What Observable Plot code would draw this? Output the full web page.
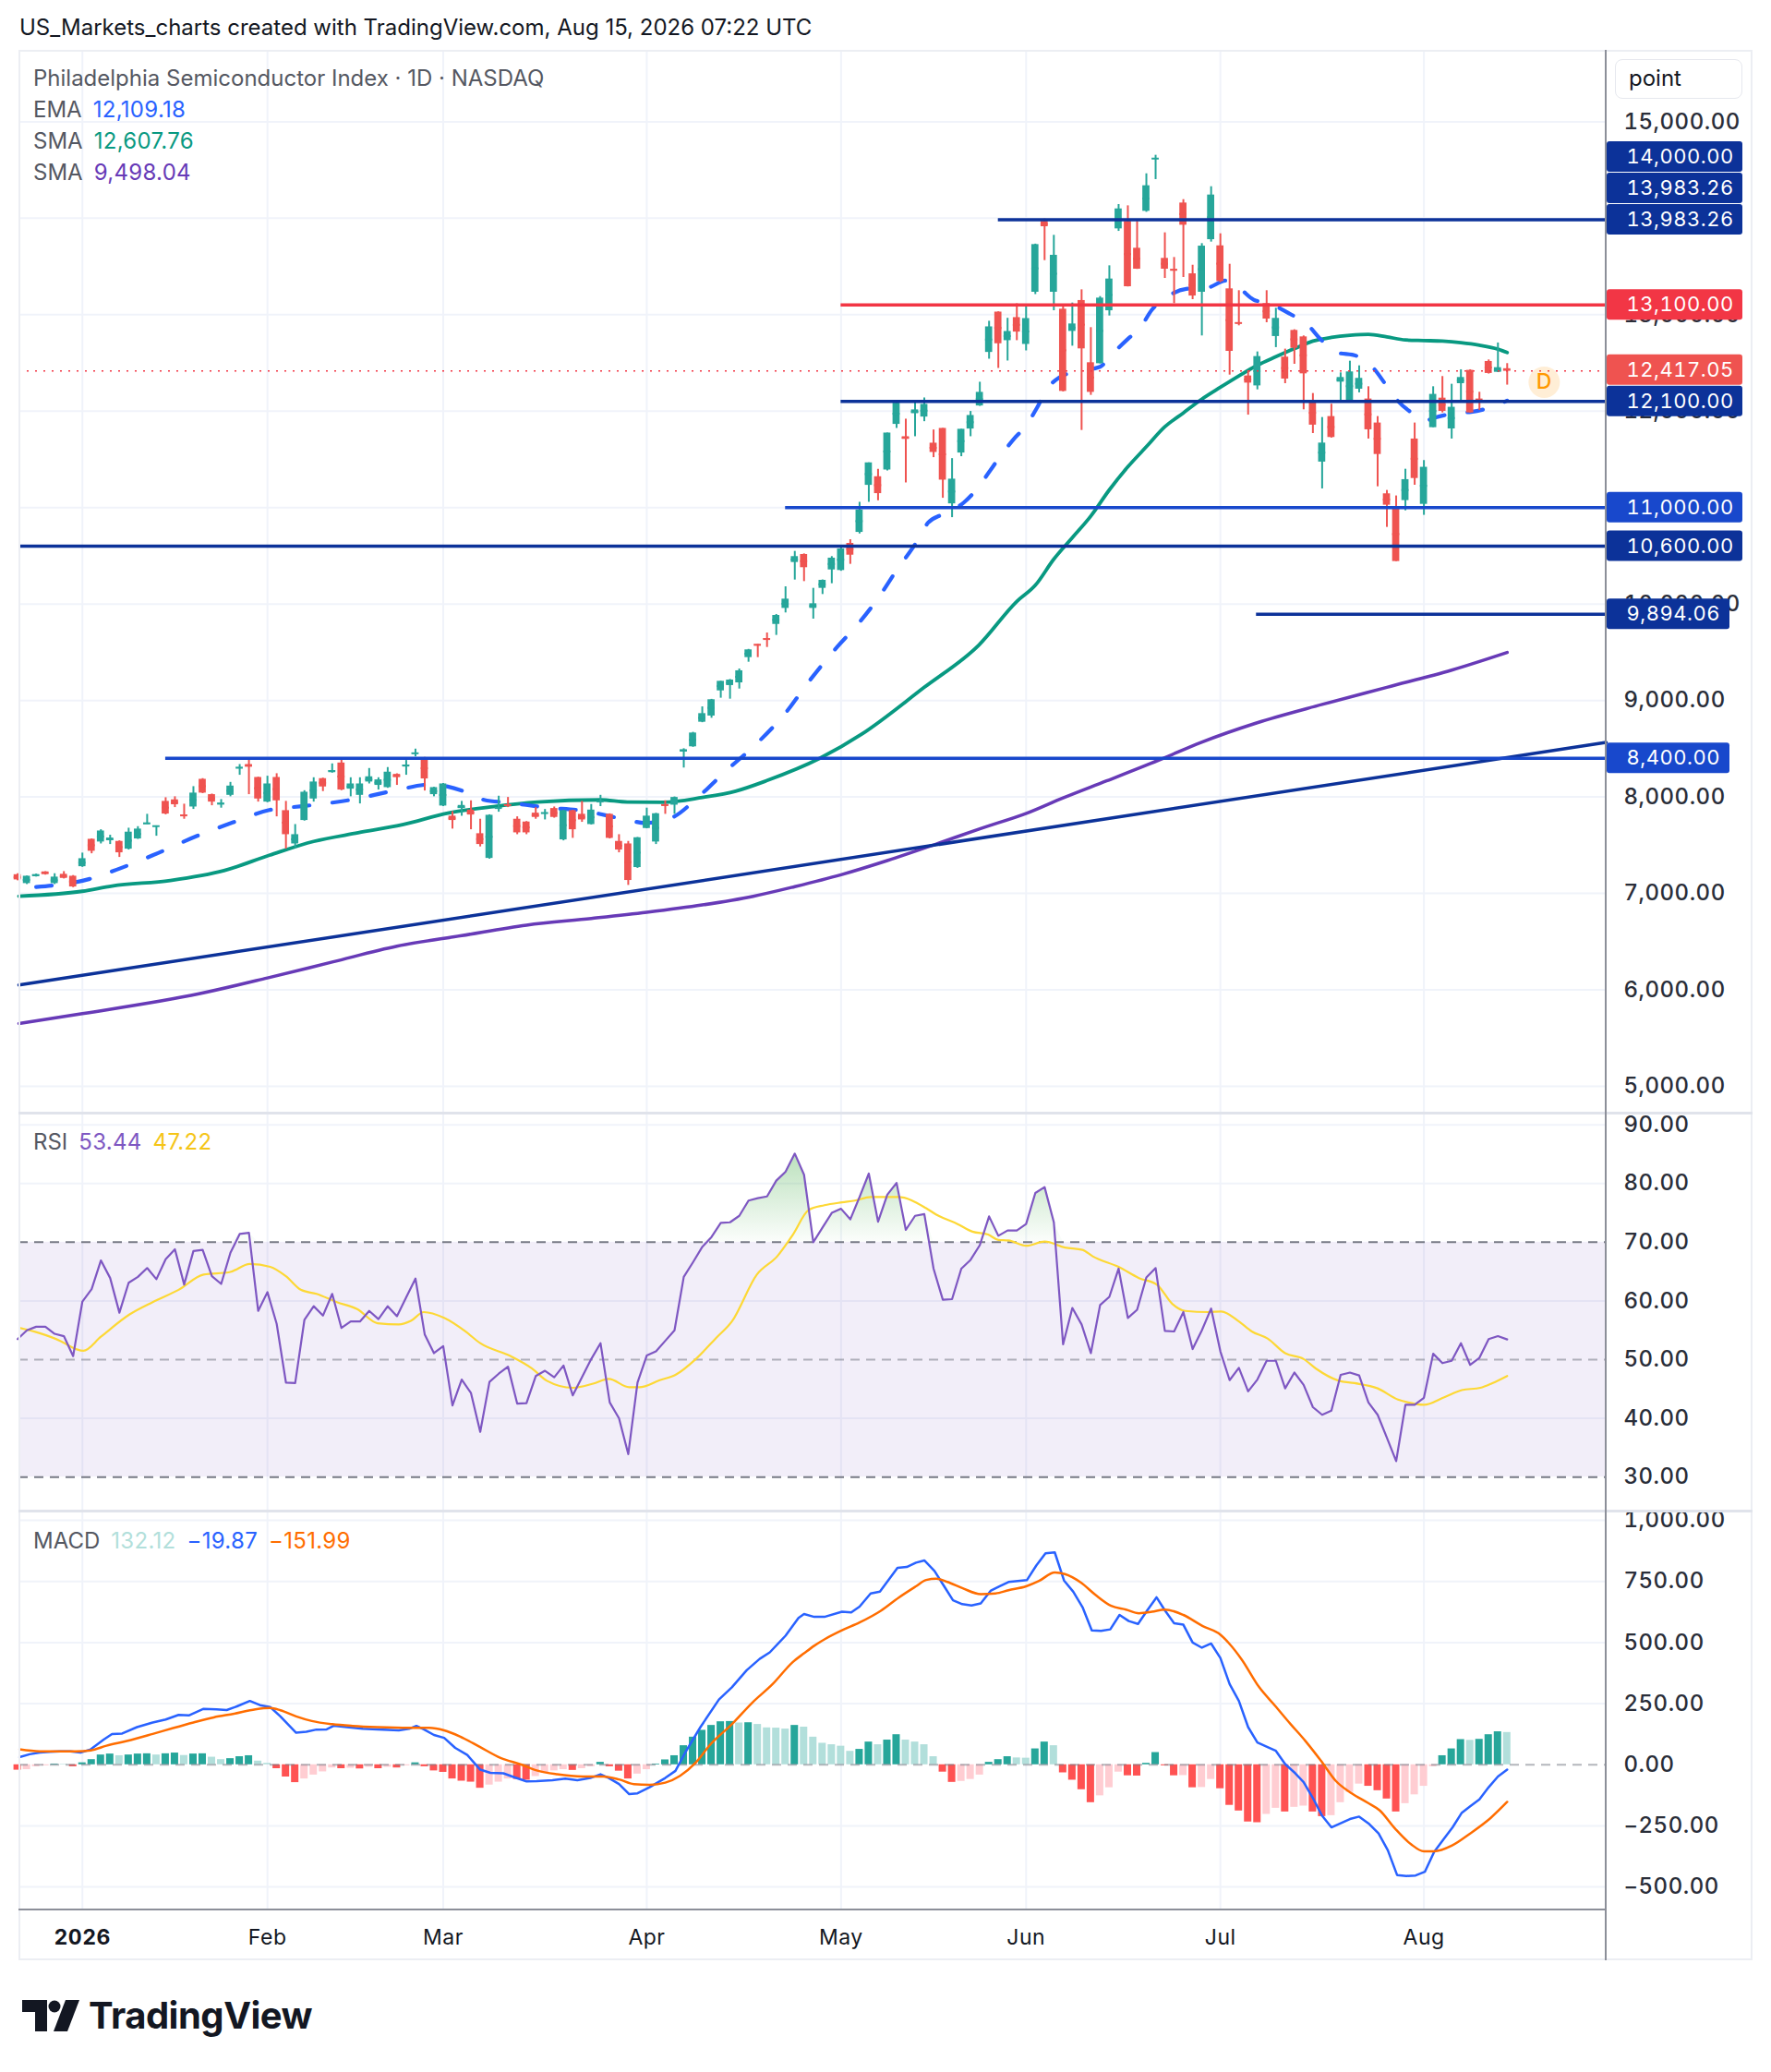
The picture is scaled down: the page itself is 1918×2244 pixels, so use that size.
<!DOCTYPE html>
<html>
<head>
<meta charset="utf-8">
<script src="https://cdn.jsdelivr.net/npm/d3@7"></script>
<script src="https://cdn.jsdelivr.net/npm/@observablehq/plot@0.6"></script>
<style>
  html,body{margin:0;padding:0;background:#fff;}
  #page{position:relative;width:1918px;height:2244px;overflow:hidden;font-family:Inter,"Noto Sans",Roboto,sans-serif;color:#131722;}
  .a{position:absolute;white-space:nowrap;}
  .leg{font-size:24px;line-height:30px;color:#555862;}
  .leg span{margin-left:12px;letter-spacing:0.3px;}
  svg{position:absolute;}
</style>
</head>
<body>
<div id="page"></div>
<script>
// ================= DATA =================
const holidays = ["2025-12-25","2026-01-01","2026-01-19","2026-02-16","2026-04-03","2026-05-25","2026-06-19","2026-07-03"];
const firstSession = "2025-12-22";
const lastSession = "2026-08-14";
const yearStartSession = "2026-01-02";
const monthNames = ["Jan","Feb","Mar","Apr","May","Jun","Jul","Aug","Sep","Oct","Nov","Dec"];

// daily candles, Dec 22 2025 ... Aug 14 2026
const candleOpen = [7194,7102,7180,7223,7102,7198,7178,
 7277,7561,7533,7548,7539,7459,7565,7720,7695,7954,
 7970,7812,7896,8183,8024,7925,8017,8300,8336,8202,
 7947,8202,7858,7513,7756,7979,8190,8260,8352,8081,
 8017,8155,8120,8097,8234,8320,8450,8407,8024,7906,
 7801,7880,7864,7619,7363,7880,7920,7769,7740,7832,
 7830,7880,7555,7858,7820,7714,7950,7820,7539,7513,
 7268,7673,7533,7920,7915,8470,8520,8775,8839,9100,
 9155,9183,9445,9580,9640,9789,9955,10431,10514,9955,
 10163,10354,10348,10629,10743,11231,11320,11390,11863,11735,
 11974,11939,11668,11821,11039,11566,11815,12054,12609,13027,
 12731,12970,12692,13233,13967,13233,13057,12827,13147,12502,
 12492,13041,13890,13967,13689,14072,14617,13584,13468,14158,
 13424,13233,13778,13714,13268,12917,12365,12262,13115,12774,
 12560,12837,12770,12110,11472,11944,12301,12110,12228,12126,
 11877,11143,11009,11073,11711,11034,11829,12135,11816,12285,
 12423,12126,12515,12403,12440];
const candleHigh = [7204,7180,7200,7225,7204,7226,7185,
 7418,7565,7660,7603,7545,7676,7692,7820,7700,7992,
 8002,7925,8107,8190,8030,7973,8151,8336,8384,8205,
 8215,8241,7954,7714,8065,8199,8195,8343,8391,8199,
 8199,8295,8199,8305,8240,8378,8496,8410,8100,8140,
 7848,7954,7960,7769,7815,8008,7995,7794,7745,7890,
 7870,7896,7862,7862,7954,7922,8017,7825,7609,7539,
 7580,7884,7830,7960,8000,8500,8670,8934,9012,9200,
 9218,9327,9530,9582,9700,9892,10179,10546,10520,10163,
 10250,10492,10594,10667,11055,11464,11397,11773,12099,11917,
 12099,12137,11805,11821,11508,11812,11997,12300,12932,13030,
 12963,13113,13082,13732,13992,13823,13099,13121,13258,12866,
 13188,13507,14142,14129,13967,14461,14653,13849,13593,14193,
 13513,13737,14327,13839,13523,13249,12419,12614,13249,13067,
 12643,12844,12780,12183,11934,12072,12397,12518,12470,12253,
 11944,11178,11121,11398,11877,11488,12253,12359,12279,12429,
 12429,12196,12531,12707,12493];
const candleLow = [7131,7092,7170,7190,7092,7150,7060,
 7270,7411,7513,7507,7373,7450,7560,7715,7593,7815,
 7890,7769,7871,8035,7909,7884,8002,8225,8024,7947,
 7940,7794,7459,7469,7750,7947,8056,8247,8065,8002,
 7928,8135,8072,8090,8120,8225,8416,8062,8002,7900,
 7667,7800,7660,7482,7355,7842,7890,7609,7609,7769,
 7762,7780,7545,7571,7737,7710,7900,7565,7421,7083,
 7260,7670,7507,7820,7820,8300,8515,8770,8816,9024,
 9014,9119,9397,9445,9550,9675,9908,10249,10233,9844,
 10099,10211,10340,10412,10727,11055,11071,11380,11821,11256,
 11735,11891,11518,11097,10896,11528,11735,12050,12539,12443,
 12520,12731,12625,13209,13561,13041,12200,12674,11800,12164,
 12490,12987,13864,13288,13470,14062,14401,13376,13115,13386,
 13156,12780,13753,13332,12374,12885,11959,12221,12917,12659,
 12285,12486,12014,11768,11194,11721,12084,12110,12190,11711,
 11216,10795,10441,10967,11232,10920,11829,11982,11711,12084,
 11980,12008,12385,12400,12270];
const candleClose = [7140,7178,7195,7198,7169,7156,7067,
 7360,7437,7647,7574,7421,7635,7667,7730,7699,7823,
 7919,7805,8040,8040,7947,7935,8113,8305,8311,7979,
 8135,7960,7609,7609,8049,8155,8104,8273,8072,8135,
 8135,8209,8177,8257,8202,8330,8455,8187,8097,8135,
 7756,7912,7813,7507,7810,7890,7910,7628,7628,7788,
 7835,7788,7858,7660,7762,7864,7955,7571,7450,7134,
 7577,7801,7826,7910,7995,8490,8663,8864,9008,9199,
 9212,9308,9525,9573,9634,9882,10051,10492,10377,10003,
 10246,10476,10571,10507,10976,11464,11145,11773,12083,11710,
 12013,12070,11572,11285,11295,11812,11955,12195,12874,12699,
 12826,12820,12960,13727,13912,13616,12205,12904,12646,12195,
 13172,13370,14097,13290,13472,14337,14620,13472,13462,13928,
 13194,13711,14241,13344,12620,12910,12291,12566,12955,12962,
 12333,12652,12387,11855,11669,11727,12349,12407,12340,11807,
 11551,11025,10441,11290,11302,11418,12174,11998,12040,12349,
 11982,12088,12391,12451,12417.05];

// moving averages: [bar index (Jan 2 2026 = 0), value]
const emaPoints = [[-5,7067],[0.8,7150],[3.7,7246],[7.6,7395],[12.4,7596],[16.3,7737],[20.2,7864],[24,7906],[29,7970],[33.7,8065],[37.6,8129],[41.5,8049],[43.4,7970],[46.3,7938],[50.2,7890],[54,7858],[58.9,7762],[60.8,7730],[63.7,7785],[66.6,8002],[69.3,8248],[73,8564],[76,8871],[78.6,9206],[81.6,9557],[84,9812],[86,10060],[88,10350],[90,10620],[91.4,10842],[92.9,10928],[95.3,11055],[96.6,11183],[98,11368],[99.1,11518],[100.6,11703],[102,11853],[103.2,12038],[104.2,12220],[105.6,12349],[107.6,12413],[110,12460],[111.1,12572],[113,12748],[114.3,12859],[115.6,13051],[117,13169],[119.3,13268],[121.6,13280],[123.6,13354],[125,13281],[126.6,13156],[128.3,13115],[130.5,13010],[132.4,12898],[133.9,12738],[135.5,12611],[137.7,12573],[139.5,12451],[140.8,12285],[142,12126],[143.7,11982],[145.2,11902],[146.2,11934],[148.8,11982],[150.1,11992],[152.1,12036],[154,12109.18]];
const sma50Points = [[-6.86,6971],[0,7022],[3.2,7076],[9.5,7134],[15.3,7236],[20.2,7395],[25,7539],[29.8,7628],[34.7,7714],[39.5,7832],[44.4,7900],[49.2,7947],[56,7970],[58.9,7947],[62.8,7945],[67,7995],[70.6,8060],[74,8170],[79.7,8400],[84.3,8655],[91,9137],[96.9,9575],[101,10027],[103,10195],[105,10466],[107,10689],[109,10913],[111,11184],[113,11423],[115,11631],[117,11838],[119,11982],[121,12125],[123,12247],[125,12365],[127,12476],[129,12564],[131,12648],[133,12726],[135,12764],[137,12786],[139,12796],[141,12770],[143,12738],[145,12732],[147,12726],[149,12710],[151,12684],[153,12643],[154,12607.76]];
const sma200Points = [[-6.86,5650],[0,5753],[12.6,5959],[20,6123],[27,6288],[34,6452],[41,6562],[48,6671],[55,6740],[61,6804],[67,6880],[72.5,6970],[77,7070],[82,7193],[87,7340],[92.3,7512],[97,7670],[102.1,7832],[106,7990],[110.7,8167],[116.8,8400],[120.9,8565],[126.9,8767],[134,8959],[141,9137],[148,9315],[154,9498.04]];
const trendLinePoints = [[-6.86,6050],[164.7,8565]];

// horizontal drawings
const levelValues = [13983.26, 13100, 12100, 11000, 10600, 9894.06, 8400];
const levelStartIdx = [99, 82, 82, 76, -6.86, 126.9, 9];
const levelColors = ["#0c3299","#f23645","#0c3299","#1848cc","#0c3299","#0c3299","#1848cc"];
const lastPrice = 12417.05;
const labelValues = [14000, 13983.26, 13983.26, 13100, 12417.05, 12100, 11000, 10600, 9894.06, 8400];
const labelColors = ["#0c3299","#0c3299","#0c3299","#f23645","#ef5350","#0c3299","#1848cc","#0c3299","#0c3299","#1848cc"];
const priceTicks = [5000,6000,7000,8000,9000,10000,11000,12000,13000,14000,15000];
const eventMarker = [{i: 158, v: 12300, label: "D"}];

// RSI (one value per session) and its moving average
const rsiValues = [53.5,55.0,55.6,55.6,54.4,54.0,50.6,
 59.9,62.0,66.9,63.9,58.0,63.1,64.1,65.6,63.7,67.1,
 68.8,62.8,68.5,68.7,64.2,62.9,68.2,71.4,71.6,58.3,
 61.5,56.1,46.1,46.0,56.8,59.1,57.5,61.2,55.4,56.5,
 56.5,58.3,56.9,59.1,57.4,60.6,63.8,54.3,51.1,52.3,
 42.2,46.6,44.3,37.7,46.2,47.6,48.8,42.5,42.6,47.2,
 48.1,47.0,49.0,43.9,47.0,50.1,52.8,42.7,40.0,33.9,
 46.1,50.7,51.4,53.2,55.0,64.1,66.6,69.2,70.9,73.3,
 73.4,74.5,77.1,77.5,77.8,80.5,82.0,85.1,81.5,70.0,
 72.5,75.0,75.7,73.9,77.7,81.7,73.5,78.1,80.1,72.1,
 74.5,74.8,65.5,60.2,60.3,65.5,67.0,69.5,74.4,71.1,
 72.0,72.0,73.1,78.4,79.4,73.4,52.6,58.8,56.0,51.1,
 59.3,60.7,65.5,57.1,58.5,64.0,65.6,54.9,54.8,58.1,
 51.8,55.0,58.7,51.4,46.5,48.6,44.6,46.6,49.8,49.8,
 45.1,47.8,45.7,41.9,40.6,41.3,47.4,47.8,47.3,42.7,
 40.6,36.7,32.7,42.3,42.3,43.5,51.0,49.4,49.8,52.8,
 49.1,50.3,53.5,54.0,53.44];
const rsiMaPoints = [[-6.8,55.4],[-4.6,54.5],[-2.4,53.2],[-0.7,51.8],[0.1,51.5],[2.0,53.9],[5.1,57.7],[7.6,59.8],[10.4,61.9],[13.1,64.5],[15.9,64.9],[18.1,66.3],[20.3,65.8],[22,64.2],[23.6,61.9],[25.3,61.2],[27.5,59.8],[29.7,58.6],[31.9,56.2],[34.2,56.0],[35.5,56.6],[36.9,58.1],[39.1,57.1],[41.4,54.8],[43,52.8],[46.3,50.6],[48.6,48.5],[50.2,46.4],[53,45.2],[55.2,45.9],[56.9,46.7],[59.1,45.3],[60.2,45.3],[62.4,46.5],[64.1,47.4],[66.3,50.1],[68.5,53.7],[70.2,56.5],[72.9,64.5],[75.1,67.6],[76.8,71.3],[78.5,75.5],[80.2,76.3],[82.1,76.8],[83.5,77.1],[85.2,77.7],[88.2,77.7],[91.2,75.8],[92.3,74.7],[94.6,73.1],[96.2,71.8],[97.9,71.3],[99,70.4],[100.1,70.3],[102,69.4],[104,70.1],[106.2,69.1],[108.1,68.7],[109.2,67.6],[112,65.8],[114.2,63.9],[116.2,62.7],[117.8,59.5],[119.2,58.3],[121.7,58.1],[123.1,58.2],[125,56.5],[126.4,54.8],[128.1,53.6],[130,51.1],[132,50.1],[133.3,48.5],[135.8,46.4],[137.5,46.0],[140,45.1],[142.2,43.2],[143.3,42.7],[145,42.3],[147.2,43.6],[149.1,44.8],[151.1,45.2],[152.4,46.0],[154,47.22]];
const rsiTicks = [30,40,50,60,70,80,90];
const rsiGridLines = [40,60,80,90];
const rsiBandLines = [70,50,30];

// MACD
const macdPoints = [[-6.8,31],[-5.7,43],[-4.6,50],[-3.5,53],[-2.4,55],[-1.3,55],[-0.2,50],[0.9,63],[2.3,103],[3.2,126],[4.3,128],[5.9,154],[7.6,173],[9.0,185],[10.4,204],[11.5,202],[13.1,229],[14.5,227],[15.6,224],[16.7,239],[18.1,261],[19.2,244],[20.3,236],[21.4,198],[23.1,131],[24.2,135],[25.3,144],[26.4,145],[27.2,160],[28.6,154],[30.3,147],[31.9,145],[34.2,141],[35.3,147],[36.1,159],[36.9,145],[38.0,122],[39.1,110],[40.3,69],[41.6,40],[43.0,-20],[44.1,-33],[45.5,-35],[46.6,-50],[48.0,-68],[49.1,-67],[50.8,-63],[52.2,-57],[53.5,-63],[54.9,-54],[56.0,-39],[56.9,-54],[58.0,-79],[59.1,-120],[60.0,-117],[61.3,-92],[63.0,-54],[64.1,-25],[65.2,53],[66.8,154],[68.8,267],[70.2,317],[71.8,387],[73.2,433],[74.3,460],[76.0,528],[77.4,601],[78.0,617],[79.1,605],[80.2,605],[82.1,626],[83.1,623],[84.0,647],[85.2,701],[86.2,708],[88.1,806],[89.1,809],[90.1,827],[91.0,836],[92.1,793],[93.1,733],[94.1,673],[95.1,657],[96.1,652],[97.1,660],[98.2,713],[99.1,730],[100.1,748],[102.1,756],[103.1,815],[104.1,865],[105.1,869],[106.1,754],[107.1,708],[108.1,645],[109.1,550],[110.1,548],[111.1,554],[112.1,613],[113.1,588],[114.1,576],[115.1,632],[116.1,685],[117.0,632],[118.0,579],[119.0,573],[120.0,500],[121.0,479],[122.0,496],[123.0,437],[124.0,330],[125.0,261],[126.0,154],[127.0,91],[128.1,72],[129.0,57],[130.0,3],[131.1,-35],[132.0,-71],[133.0,-136],[134.0,-209],[135.0,-256],[136.0,-239],[137.0,-222],[138.0,-212],[139.1,-243],[140.1,-281],[141.1,-350],[142.1,-451],[143.1,-455],[144.1,-453],[145.1,-438],[146.1,-357],[147.1,-306],[148.1,-256],[149.1,-196],[150.0,-170],[151.0,-142],[152.0,-92],[153.0,-48],[154.0,-19.87]];
const signalPoints = [[-6.8,63],[-4.6,55],[-2.4,55],[-0.7,55],[0.9,59],[2.6,78],[4.8,97],[7.6,126],[9.8,150],[12.0,173],[14.2,194],[16.4,209],[18.7,227],[20.3,232],[21.4,223],[23.1,198],[24.8,179],[27.0,166],[29.2,159],[31.9,154],[35.3,151],[37.5,151],[39.1,141],[40.8,116],[43.0,72],[45.2,28],[47.5,0],[49.1,-23],[51.3,-39],[54.1,-48],[56.3,-48],[58.0,-60],[59.6,-79],[61.3,-82],[63.0,-73],[64.6,-45],[66.3,9],[67.9,84],[70.2,166],[72.4,254],[74.6,330],[76.8,421],[78.0,456],[79.1,487],[80.2,513],[82.1,550],[84.0,582],[86.3,630],[88.2,683],[90.1,730],[91.2,756],[92.3,761],[93.5,748],[95.1,723],[97.1,698],[98.7,701],[100.1,714],[102.0,730],[103.4,752],[105.1,787],[106.2,780],[107.9,746],[109.5,695],[111.2,650],[112.8,635],[114.2,620],[115.6,626],[117.0,635],[119.0,613],[121.1,567],[122.8,538],[124.0,494],[125.3,431],[127.2,317],[128.9,242],[130.6,166],[132.2,97],[133.9,15],[135.5,-67],[137.2,-117],[138.9,-155],[140.2,-186],[141.9,-262],[143.6,-325],[145.0,-354],[146.1,-354],[148.0,-331],[150.0,-281],[152.2,-218],[154.0,-151.99]];
const histValues = [-22,-20,-8,-4,3,2,-8,
 8,21,40,44,37,40,44,45,40,45,
 48,38,44,45,31,21,25,33,37,15,
 6,-16,-50,-73,-58,-42,-29,-13,-16,-14,
 -17,-10,-16,-10,-13,-4,8,-8,-25,-31,
 -58,-67,-71,-96,-83,-71,-58,-60,-63,-48,
 -35,-25,-20,-23,-16,-8,10,-8,-26,-58,
 -38,-20,3,20,37,78,113,141,161,176,
 177,171,172,165,151,150,146,161,154,113,
 88,82,76,55,63,93,82,101,123,101,
 93,82,33,-30,-72,-68,-60,-42,10,21,
 33,28,27,65,93,78,-33,-63,-102,-155,
 -127,-94,-30,-45,-46,6,50,-4,-45,-44,
 -94,-93,-60,-98,-166,-189,-234,-237,-203,-178,
 -193,-174,-169,-193,-212,-208,-155,-113,-79,-88,
 -106,-140,-193,-159,-123,-88,-8,37,65,103,
 100,104,123,135,132.12];
const macdTicks = [-500,-250,0,250,500,750,1000];

// ================= LAYOUT =================
const page = document.getElementById("page");
const fmt2 = d3.format(",.2f");
const FONT = "Inter, Roboto, sans-serif";
const W = 1878, MR = 159, FRAME_W = W - MR, LEFT = 20;
const xDomain = [-6.86, 164.7];
const pxPerBar = FRAME_W / (xDomain[1] - xDomain[0]);
const xOpt = {type: "linear", domain: xDomain, axis: null};
const baseStyle = {fontFamily: FONT, overflow: "visible", background: "transparent", fontVariantNumeric: "tabular-nums"};
const gridColor = "#f0f3fa";
const axisText = {frameAnchor: "right", textAnchor: "start", dx: 19, fontSize: 24, fill: "#2a2e39", fontWeight: 500};
const up = "#26a69a", down = "#ef5350";

// sessions → bar index
const sessions = [];
for (let t = Date.parse(firstSession + "T00:00:00Z"); t <= Date.parse(lastSession + "T00:00:00Z"); t += 864e5) {
  const d = new Date(t), s = d.toISOString().slice(0, 10), wd = d.getUTCDay();
  if (wd === 0 || wd === 6 || holidays.includes(s)) continue;
  sessions.push(s);
}
const zero = sessions.indexOf(yearStartSession);
const monthTicks = [];
sessions.forEach((s, k) => {
  if (k > 0 && s.slice(5, 7) !== sessions[k - 1].slice(5, 7)) {
    const m = +s.slice(5, 7);
    monthTicks.push({i: k - zero, label: m === 1 ? s.slice(0, 4) : monthNames[m - 1], year: m === 1});
  }
});
const monthIdx = monthTicks.map(d => d.i);

const candles = sessions.map((s, k) => ({
  i: k - zero, o: candleOpen[k], h: candleHigh[k], l: candleLow[k], c: candleClose[k],
  color: candleClose[k] >= candleOpen[k] ? up : down
}));

function place(svg, top) {
  svg.style.left = LEFT + "px";
  svg.style.top = top + "px";
  svg.style.letterSpacing = "0.5px";
  page.appendChild(svg);
}

// ---------- price pane ----------
const priceTop = 54, priceH = 1151;
const priceDomain = [4722, 15741];
const yPx = d3.scaleLinear(priceDomain, [priceH, 0]);
const boxH = 33, boxStep = 34;
const labels = labelValues.map((v, k) => ({v, color: labelColors[k], text: fmt2(v), py: yPx(v)}));
labels.sort((a, b) => b.py - a.py);
for (let k = 1; k < labels.length; k++) {
  if (labels[k - 1].py - labels[k].py < boxStep) labels[k].py = labels[k - 1].py - boxStep;
}
labels.forEach(d => {
  d.yc = yPx.invert(d.py);
  d.y1 = yPx.invert(d.py - boxH / 2);
  d.y2 = yPx.invert(d.py + boxH / 2);
  d.x1 = xDomain[1] + 1 / pxPerBar;
  d.x2 = xDomain[1] + (22 + 14 * d.text.length) / pxPerBar;
});
// axis tick labels completely covered by a price label box are not drawn (as on the original axis)
const visiblePriceTicks = priceTicks.filter(t => !labels.some(d => Math.abs(yPx(t) - d.py) < 6));
const levels = levelValues.map((v, k) => ({v, start: levelStartIdx[k], color: levelColors[k]}));

const priceSvg = Plot.plot({
  width: W, height: priceH, marginLeft: 0, marginRight: MR, marginTop: 0, marginBottom: 0,
  x: xOpt, y: {domain: priceDomain, axis: null}, color: {type: "identity"},
  style: baseStyle,
  marks: [
    Plot.ruleY(priceTicks, {stroke: gridColor, strokeWidth: 2}),
    Plot.ruleX(monthIdx, {stroke: gridColor, strokeWidth: 2}),
    Plot.text(visiblePriceTicks, {y: d => d, text: d => fmt2(d), ...axisText}),
    Plot.line(sma200Points, {x: d => d[0], y: d => d[1], stroke: "#673ab7", strokeWidth: 3.5, curve: "monotone-x"}),
    Plot.line(trendLinePoints, {x: d => d[0], y: d => d[1], stroke: "#0c3299", strokeWidth: 3.5}),
    Plot.line(sma50Points, {x: d => d[0], y: d => d[1], stroke: "#089981", strokeWidth: 3.8, curve: "monotone-x"}),
    Plot.line(emaPoints, {x: d => d[0], y: d => d[1], stroke: "#2962ff", strokeWidth: 4.2, strokeDasharray: "17,25", strokeLinecap: "round", curve: "monotone-x"}),
    Plot.ruleX(candles, {x: "i", y1: "l", y2: "h", stroke: "color", strokeWidth: 2}),
    Plot.rect(candles, {x1: d => d.i - 0.385, x2: d => d.i + 0.385, y1: d => Math.min(d.o, d.c), y2: d => Math.max(d.o, d.c), fill: "color"}),
    Plot.ruleY(candles, {y: d => (d.o + d.c) / 2, x1: d => d.i - 0.385, x2: d => d.i + 0.385, stroke: "color", strokeWidth: 2}),
    Plot.ruleY([lastPrice], {stroke: "#f23645", strokeWidth: 1.6, strokeDasharray: "2,7"}),
    Plot.ruleY(levels, {y: "v", x1: "start", x2: () => xDomain[1], stroke: "color", strokeWidth: 3.5}),
    Plot.dot(eventMarker, {x: "i", y: "v", r: 17, fill: "#ff9800", fillOpacity: 0.16, stroke: "none"}),
    Plot.text(eventMarker, {x: "i", y: "v", text: "label", fill: "#ff9800", fontSize: 23, fontWeight: 500}),
    Plot.rect(labels, {x1: "x1", x2: "x2", y1: "y1", y2: "y2", fill: "color", rx: 3}),
    Plot.text(labels, {y: "yc", text: "text", ...axisText, dx: 22, fontSize: 22, fill: "#ffffff", fontWeight: 400})
  ]
});
place(priceSvg, priceTop);

// ---------- RSI pane ----------
const rsiTop = 1205, rsiH = 431;
const rsiDomain = [24.2, 92.0];
const rsiY = d3.scaleLinear(rsiDomain, [rsiH, 0]);
const rsiRows = rsiValues.map((v, k) => ({i: k - zero, v}));
const rsiSvg = Plot.plot({
  width: W, height: rsiH, marginLeft: 0, marginRight: MR, marginTop: 0, marginBottom: 0,
  x: xOpt, y: {domain: rsiDomain, axis: null},
  style: baseStyle,
  marks: [
    Plot.ruleY(rsiGridLines, {stroke: gridColor, strokeWidth: 2}),
    Plot.ruleX(monthIdx, {stroke: gridColor, strokeWidth: 2}),
    Plot.rect([rsiBandLines], {x1: () => xDomain[0], x2: () => xDomain[1], y1: d => d3.min(d), y2: d => d3.max(d), fill: "#7e57c2", fillOpacity: 0.1}),
    Plot.area(rsiRows, {x1: "i", y1: () => rsiBandLines[0], y2: d => Math.max(d.v, rsiBandLines[0]), fill: "url(#obGrad)"}),
    Plot.ruleY(rsiBandLines, {stroke: "#787b86", strokeOpacity: d => d === 50 ? 0.55 : 1, strokeWidth: 2, strokeDasharray: "10,7"}),
    Plot.line(rsiMaPoints, {x: d => d[0], y: d => d[1], stroke: "#fdd835", strokeWidth: 2.2, curve: "monotone-x"}),
    Plot.line(rsiRows, {x: "i", y: "v", stroke: "#7e57c2", strokeWidth: 2.2}),
    Plot.text(rsiTicks, {y: d => d, text: d => fmt2(d), ...axisText})
  ]
});
d3.select(rsiSvg).insert("defs", ":first-child").html(
  `<linearGradient id="obGrad" gradientUnits="userSpaceOnUse" x1="0" x2="0" y1="${rsiY(88)}" y2="${rsiY(70)}">
     <stop offset="0" stop-color="#4caf50" stop-opacity="0.45"/>
     <stop offset="1" stop-color="#4caf50" stop-opacity="0.02"/>
   </linearGradient>`);
place(rsiSvg, rsiTop);

// ---------- MACD pane + time axis ----------
const macdTop = 1636, macdH = 432, axisH = 55;
const macdDomain = [-594, 1038];
const histRows = histValues.map((v, k) => {
  const prev = k > 0 ? histValues[k - 1] : v;
  const color = v >= 0 ? (prev < v ? "#26a69a" : "#b2dfdb") : (prev < v ? "#ffcdd2" : "#ff5252");
  return {i: k - zero, v, color};
});
const macdSvg = Plot.plot({
  width: W, height: macdH + axisH, marginLeft: 0, marginRight: MR, marginTop: 0, marginBottom: axisH,
  x: xOpt, y: {domain: macdDomain, axis: null}, color: {type: "identity"},
  style: baseStyle,
  marks: [
    Plot.ruleY(macdTicks.filter(d => d !== 0), {stroke: gridColor, strokeWidth: 2}),
    Plot.ruleX(monthIdx, {stroke: gridColor, strokeWidth: 2}),
    Plot.rect(histRows, {x1: d => d.i - 0.4, x2: d => d.i + 0.4, y1: () => 0, y2: "v", fill: "color"}),
    Plot.ruleY([0], {stroke: "#787b86", strokeOpacity: 0.55, strokeWidth: 2, strokeDasharray: "10,7"}),
    Plot.line(macdPoints, {x: d => d[0], y: d => d[1], stroke: "#2962ff", strokeWidth: 2.5}),
    Plot.line(signalPoints, {x: d => d[0], y: d => d[1], stroke: "#ff6d00", strokeWidth: 2.5, curve: "monotone-x"}),
    Plot.text(macdTicks, {y: d => d, text: d => fmt2(d), ...axisText}),
    Plot.text(monthTicks.filter(d => !d.year), {x: "i", text: "label", frameAnchor: "bottom", dy: 37, fontSize: 23, fill: "#131722"}),
    Plot.text(monthTicks.filter(d => d.year), {x: "i", text: "label", frameAnchor: "bottom", dy: 37, fontSize: 23, fill: "#131722", fontWeight: 700})
  ]
});
place(macdSvg, macdTop);

// ---------- frame, separators, legends ----------
function div(style, html, cls) {
  const e = document.createElement("div");
  e.className = "a " + (cls || "");
  e.setAttribute("style", style);
  if (html) e.innerHTML = html;
  page.appendChild(e);
  return e;
}
div("left:20px;top:54px;width:1878px;height:2069px;border:2px solid #eceef3;box-sizing:border-box;");
div("left:20px;top:1204px;width:1878px;height:3px;background:#e0e3eb;");
div("left:20px;top:1635px;width:1878px;height:3px;background:#e0e3eb;");
div("left:20px;top:2067px;width:1720px;height:2px;background:#8c8f99;");
div("left:1738px;top:54px;width:2px;height:2069px;background:#8c8f99;");

div("left:21px;top:15px;font-size:24px;line-height:30px;color:#131722;",
  "US_Markets_charts created with TradingView.com, Aug 15, 2026 07:22 UTC");
div("left:1749px;top:64px;width:138px;height:43px;border:1.5px solid #e6e8ee;border-radius:8px;box-sizing:border-box;font-size:24px;line-height:40px;padding-left:14px;color:#131722;background:#fff;", "point");

div("left:36px;top:70px;", "Philadelphia Semiconductor Index · 1D · NASDAQ", "leg");
const last = a => a[a.length - 1][1];
div("left:36px;top:104px;", `EMA<span style="color:#2962ff">${fmt2(last(emaPoints))}</span>`, "leg");
div("left:36px;top:138px;", `SMA<span style="color:#089981">${fmt2(last(sma50Points))}</span>`, "leg");
div("left:36px;top:172px;", `SMA<span style="color:#673ab7">${fmt2(last(sma200Points))}</span>`, "leg");
div("left:36px;top:1222px;", `RSI<span style="color:#7e57c2">${fmt2(rsiValues[rsiValues.length - 1])}</span><span style="color:#f5c518">${fmt2(last(rsiMaPoints))}</span>`, "leg");
div("left:36px;top:1654px;", `MACD<span style="color:#b2dfdb">${fmt2(histValues[histValues.length - 1])}</span><span style="color:#2962ff">${fmt2(last(macdPoints))}</span><span style="color:#ff6d00">${fmt2(last(signalPoints))}</span>`, "leg");

// TradingView logo
div("left:24px;top:2166px;",
  `<svg width="66" height="34" viewBox="0 0 66 34" style="position:static"><path d="M0 0H27V34H14V13H0Z" fill="#131722"/><circle cx="35" cy="7" r="6.5" fill="#131722"/><path d="M47 0H62L49 34H34Z" fill="#131722"/></svg>`);
div("left:96px;top:2159px;font-size:40px;line-height:48px;font-weight:700;color:#131722;letter-spacing:-0.5px;", "TradingView");
</script>
</body>
</html>
